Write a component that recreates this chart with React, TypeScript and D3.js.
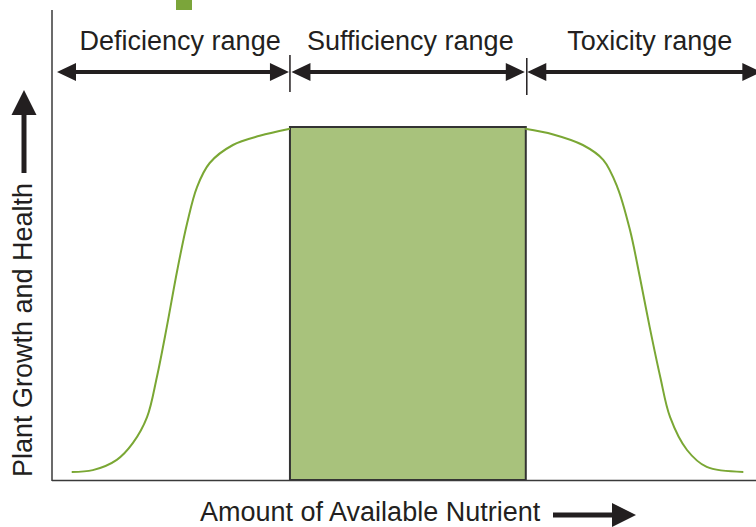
import * as d3 from "d3";

// nutrient amount (0-100) vs plant growth (0-100)
const risingX = [2.8, 5.8, 9.2, 11.5, 13.5, 14.9, 16.3, 17.8, 19.2, 20.6, 22.4, 25.7, 29.5, 33.8];
const risingY = [2.3, 2.8, 5.7, 10.5, 17.8, 29.2, 43.3, 59.5, 72.8, 83.0, 89.8, 94.9, 97.5, 99.5];
const fallingX = [67.2, 71.2, 75.4, 78.3, 80.3, 82.1, 83.5, 84.9, 86.4, 87.8, 90.2, 93.0, 98.2];
const fallingY = [99.5, 97.9, 94.9, 90.7, 83.0, 70.8, 57.5, 43.3, 29.2, 17.8, 8.5, 3.7, 2.3];

const rangeNames = ["Deficiency range", "Sufficiency range", "Toxicity range"];
const rangeStart = [0, 33.8, 67.3];
const rangeEnd = [33.8, 67.3, 100.9];
const rangeLabelAt = [18.2, 50.9, 84.9];
const sufficiencyTop = 100;

const width = 756;
const height = 527;
const FONT = "'Liberation Sans', Arial, Helvetica, sans-serif";
const INK = "#231f20";

export default function App() {
  const x = d3.scaleLinear().domain([0, 100]).range([52, 756]);
  const y = d3.scaleLinear().domain([0, 100]).range([480, 127]);

  const line = d3
    .line<[number, number]>()
    .x((d) => x(d[0]))
    .y((d) => y(d[1]))
    .curve(d3.curveCatmullRom.alpha(0.5));

  const rising = risingX.map((v, i) => [v, risingY[i]] as [number, number]);
  const falling = fallingX.map((v, i) => [v, fallingY[i]] as [number, number]);

  const arrowY = 72;
  const head = 19;
  const half = 9;

  // double headed arrow as one polygon
  const doubleArrow = (x0: number, x1: number) => {
    const s = 2;
    return `M${x0},${arrowY} L${x0 + head},${arrowY - half} L${x0 + head},${arrowY - s} L${x1 - head},${arrowY - s} L${x1 - head},${arrowY - half} L${x1},${arrowY} L${x1 - head},${arrowY + half} L${x1 - head},${arrowY + s} L${x0 + head},${arrowY + s} L${x0 + head},${arrowY + half} Z`;
  };

  return (
    <svg
      width={width}
      height={height}
      style={{ position: "absolute", left: 0, top: 0, background: "#fff" }}
    >
      <rect x={176} y={0} width={16} height={10} fill="#7ba53a" />

      {/* sufficiency block */}
      <rect
        x={x(rangeStart[1])}
        y={y(sufficiencyTop)}
        width={x(rangeEnd[1]) - x(rangeStart[1])}
        height={y(0) - y(sufficiencyTop)}
        fill="#a8c27c"
        stroke="#333"
        strokeWidth={2}
      />

      <path d={line(rising) ?? ""} fill="none" stroke="#7aa734" strokeWidth={2} />
      <path d={line(falling) ?? ""} fill="none" stroke="#7aa734" strokeWidth={2} />

      {/* axes */}
      <line x1={52} y1={10} x2={52} y2={481} stroke="#3a3a3a" strokeWidth={1.5} />
      <line x1={52} y1={480.5} x2={756} y2={480.5} stroke="#3a3a3a" strokeWidth={1.5} />

      {/* range arrows */}
      {rangeNames.map((name, i) => (
        <g key={name}>
          <path d={doubleArrow(x(rangeStart[i]) + (i === 0 ? 5 : 1.5), x(rangeEnd[i]) - 1)} fill={INK} />
          <text
            x={x(rangeLabelAt[i])}
            y={50}
            textAnchor="middle"
            fontFamily={FONT}
            fontSize={27}
            fill={INK}
          >
            {name}
          </text>
        </g>
      ))}
      {[rangeEnd[0], rangeEnd[1]].map((b, i) => (
        <line
          key={i}
          x1={x(b) + (i === 1 ? 1 : 0)}
          x2={x(b) + (i === 1 ? 1 : 0)}
          y1={55 + i * 3}
          y2={92 + i * 3}
          stroke={INK}
          strokeWidth={1.5}
        />
      ))}

      {/* y axis title */}
      <text
        transform="translate(32,330) rotate(-90)"
        textAnchor="middle"
        fontFamily={FONT}
        fontSize={27}
        fill={INK}
      >
        Plant Growth and Health
      </text>
      <line x1={24} y1={173} x2={24} y2={112} stroke={INK} strokeWidth={5} />
      <path d="M24,90 L36.5,115 L11.5,115 Z" fill={INK} />

      {/* x axis title */}
      <text x={200} y={521} fontFamily={FONT} fontSize={27} fill={INK}>
        Amount of Available Nutrient
      </text>
      <line x1={553} y1={515} x2={614} y2={515} stroke={INK} strokeWidth={5} />
      <path d="M636,515 L612,503 L612,527 Z" fill={INK} />
    </svg>
  );
}
